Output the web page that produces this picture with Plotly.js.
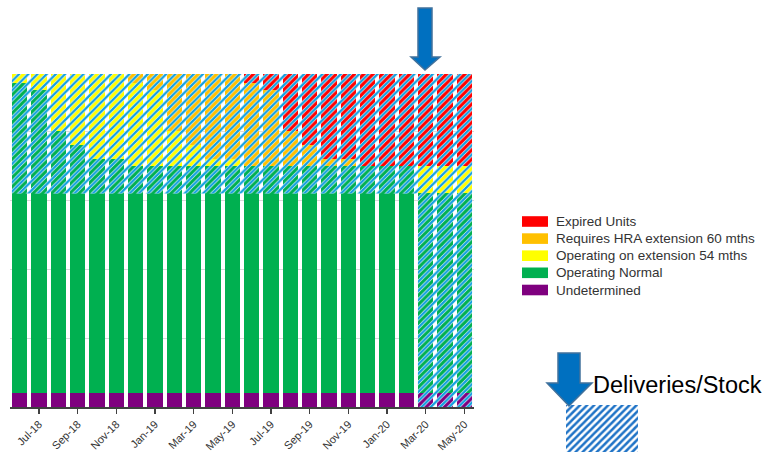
<!DOCTYPE html>
<html>
<head>
<meta charset="utf-8">
<script src="https://cdn.plot.ly/plotly-3.0.1.min.js"></script>
<style>html,body{margin:0;padding:0;background:#fff;}#chart{width:769px;height:454px;}</style>
</head>
<body>
<div id="chart"></div>
<script>
// ---- data ----
const months = ['Jun-18','Jul-18','Aug-18','Sep-18','Oct-18','Nov-18','Dec-18','Jan-19','Feb-19','Mar-19','Apr-19','May-19',
                'Jun-19','Jul-19','Aug-19','Sep-19','Oct-19','Nov-19','Dec-19','Jan-20','Feb-20','Mar-20','Apr-20','May-20'];
const undetermined    = [6,6,6,6,6,6,6,6,6,6,6,6,6,6,6,6,6,6,6,6,6,6,6,6];
const operatingNormal = [135,132,114,108,102,102,99,99,99,99,99,99,99,99,99,99,99,99,99,99,99,87,87,87];
const operatingExt54  = [4,7,25,31,37,37,36,33,15,9,3,3,0,0,0,0,0,0,0,0,0,12,12,12];
const requiresHRA60   = [0,0,0,0,0,0,4,7,25,31,37,37,36,33,15,9,3,3,0,0,0,0,0,0];
const expiredUnits    = [0,0,0,0,0,0,0,0,0,0,0,0,4,7,25,31,37,37,40,40,40,40,40,40];
const deliveryMonths  = ['Mar-20','Apr-20','May-20'];
const seriesNames  = ['Undetermined','Operating Normal','Operating on extension 54 mths','Requires HRA extension 60 mths','Expired Units'];
const seriesColors = ['#7f007f','#00b050','#ffff00','#ffc000','#ff0000'];

(function () {
// ---- build ----
const W = 769, H = 454;
const px = v => v / W, py = v => 1 - v / H;
const idx = months.map((m, i) => i);
const tickIdx = idx.filter(i => i % 2 === 1);
const seriesData = [undetermined, operatingNormal, operatingExt54, requiresHRA60, expiredUnits];
const bargap = 0.2, half = (1 - bargap) / 2;

const traces = seriesData.map((vals, k) => ({
  type: 'bar', x: idx, y: vals, name: seriesNames[k],
  marker: {color: seriesColors[k], line: {width: 0}},
  showlegend: false, hoverinfo: 'skip'
}));

// hatched "deliveries/stock" overlay, derived from the data
const totals = idx.map(i => seriesData.reduce((s, a) => s + a[i], 0));
const d0 = months.indexOf(deliveryMonths[0]);
const hatchBottom = undetermined[d0] + operatingNormal[d0];
const xL = idx[0] - half, xR = idx[idx.length - 1] + half, xD = d0 - half;
const yTop = Math.max(...totals);
const hx = [xL, xR, xR, xD, xD, xL, xL];
const hy = [yTop, yTop, 0, 0, hatchBottom, hatchBottom, yTop];
function hatchTrace(color, solidity, size, xa, ya, xs, ys) {
  return {type: 'scatter', x: xs, y: ys, xaxis: xa, yaxis: ya, mode: 'lines', line: {width: 0},
    fill: 'toself', fillcolor: 'rgba(0,0,0,0)',
    fillpattern: {shape: '/', fgcolor: color, bgcolor: 'rgba(0,0,0,0)', size: size, solidity: solidity},
    showlegend: false, hoverinfo: 'skip'};
}
traces.push(hatchTrace('#ffffff', 0.5, 6.5, 'x', 'y', hx, hy));
traces.push(hatchTrace('#12a0e0', 0.36, 6.5, 'x', 'y', hx, hy));
// legend sample of the hatch
traces.push(hatchTrace('#1f73c6', 0.5, 5, 'x2', 'y2', [0,1,1,0,0], [0,0,1,1,0]));

// block arrows (decoration)
function arrowPath(pts) {
  return 'M' + pts.map(p => px(p[0]).toFixed(5) + ',' + py(p[1]).toFixed(5)).join('L') + 'Z';
}
const shapes = [
  {type: 'path', xref: 'paper', yref: 'paper', fillcolor: '#0070c0', line: {color: '#41719c', width: 1.5},
   path: arrowPath([[418,8],[432,8],[432,57],[440,57],[425,70],[411,57],[418,57]])},
  {type: 'path', xref: 'paper', yref: 'paper', fillcolor: '#0070c0', line: {color: '#41719c', width: 1.5},
   path: arrowPath([[558,353],[580,353],[580,383],[592,383],[569,406],[547,383],[558,383]])}
];
// legend (top to bottom: reversed stack order)
const annotations = [];
const legendRows = [221.5, 238.6, 255.7, 272.8, 290];
for (let r = 0; r < 5; r++) {
  const k = 4 - r;
  const cy = legendRows[r];
  shapes.push({type: 'rect', xref: 'paper', yref: 'paper', x0: px(522), x1: px(548), y0: py(cy + 5.3), y1: py(cy - 5.3),
    fillcolor: seriesColors[k], line: {width: 0}});
  annotations.push({xref: 'paper', yref: 'paper', x: px(554), y: py(cy), xanchor: 'left', yanchor: 'middle',
    text: seriesNames[k], showarrow: false, font: {family: 'Liberation Sans, Arial, sans-serif', size: 13.5, color: '#333333'}});
}
annotations.push({xref: 'paper', yref: 'paper', x: px(591), y: py(385), xanchor: 'left', yanchor: 'middle',
  text: 'Deliveries/Stock', showarrow: false, font: {family: 'Liberation Sans, Arial, sans-serif', size: 23.5, color: '#000000'}});

const layout = {
  width: W, height: H, margin: {l: 0, r: 0, t: 0, b: 0},
  paper_bgcolor: '#ffffff', plot_bgcolor: '#ffffff',
  barmode: 'stack', bargap: bargap, showlegend: false,
  font: {family: 'Liberation Sans, Arial, sans-serif', color: '#333333'},
  xaxis: {domain: [px(10), px(474)], range: [-0.5, months.length - 0.5], tickvals: tickIdx,
    ticktext: tickIdx.map(i => months[i]), tickangle: -45, ticks: 'outside', ticklen: 5, tickwidth: 1.3,
    tickcolor: '#404040', showline: true, linecolor: '#404040', linewidth: 1.5, showgrid: false, zeroline: false,
    tickfont: {size: 11, color: '#333333'}, fixedrange: true},
  yaxis: {domain: [1 - 407 / H, 1 - 74 / H], range: [0, 145], dtick: 30, showticklabels: false, ticks: '',
    showgrid: true, gridcolor: '#d9d9d9', gridwidth: 1, zeroline: false, showline: false, fixedrange: true},
  xaxis2: {domain: [px(566), px(638)], range: [0, 1], visible: false, anchor: 'y2', fixedrange: true},
  yaxis2: {domain: [1 - 452 / H, 1 - 405 / H], range: [0, 1], visible: false, anchor: 'x2', fixedrange: true},
  shapes: shapes, annotations: annotations
};
Plotly.newPlot('chart', traces, layout, {displayModeBar: false, staticPlot: true});
})();
</script>
</body>
</html>
